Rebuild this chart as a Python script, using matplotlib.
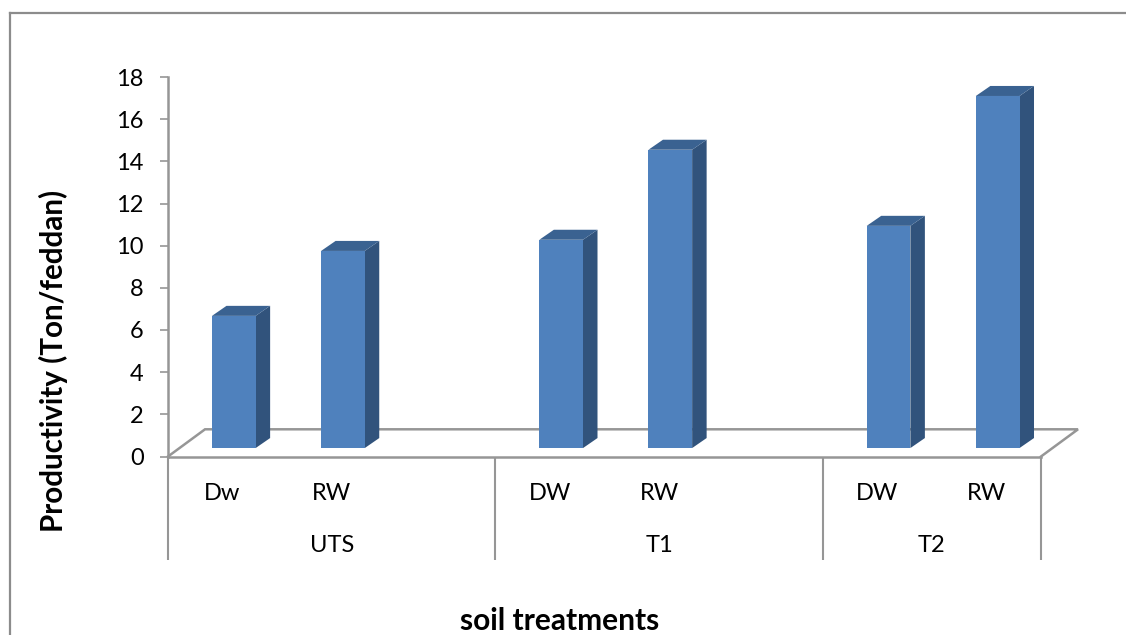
#!/usr/bin/python3
import matplotlib
matplotlib.use("Agg")
import matplotlib.pyplot as plt
from matplotlib.lines import Line2D
from matplotlib.patches import Polygon

plt.rcParams['font.family'] = ['Lato', 'DejaVu Sans']

water = ['Dw', 'RW', 'DW', 'RW', 'DW', 'RW']
slots = [0, 1, 3, 4, 6, 7]  # slot 2 and 5 are left empty
values = [6.27, 9.35, 9.88, 14.15, 10.54, 16.7]
groups = ['UTS', 'T1', 'T2']
group_centers = [1.5, 4.5, 7.0]
group_edges = [0, 3, 6, 8]

front = '#4f81bd'
side = '#31537c'
top = '#3a6291'
grey = '#969696'

W, H = 1126, 635
fig = plt.figure(figsize=(W / 100, H / 100), dpi=100)
ax = fig.add_axes([168 / W, (H - 456.5) / H, 873 / W, 379.5 / H])
ax.set_xlim(0, 8)
ax.set_ylim(0, 18)
ax.patch.set_alpha(0)

# outer chart frame, runs off the image on the right and bottom
fig.add_artist(Line2D([9.5 / W, 9.5 / W], [0, 1 - 13 / H], color='#8c8c8c', lw=1.6))
fig.add_artist(Line2D([9.5 / W, 1], [1 - 13 / H, 1 - 13 / H], color='#8c8c8c', lw=1.6))

# fake 3d floor
floor_dx = 37 / 109.1
floor_dy = 1.29
ax.plot([0, floor_dx, 8 + floor_dx, 8], [0, floor_dy, floor_dy, 0],
        color=grey, lw=1.8, clip_on=False, zorder=1, solid_joinstyle='miter')

# fake 3d bars
bar_w = 0.4
dx = 14.5 / 109.1
dy = 0.475
x_off = 0.403
base = 0.4
for s, v in zip(slots, values):
    x0 = s + x_off
    x1 = x0 + bar_w
    y1 = base + v
    ax.add_patch(Polygon([(x1, base), (x1 + dx, base + dy), (x1 + dx, y1 + dy), (x1, y1)],
                         fc=side, ec='none', clip_on=False, zorder=3))
    ax.add_patch(Polygon([(x0, y1), (x0 + dx, y1 + dy), (x1 + dx, y1 + dy), (x1, y1)],
                         fc=top, ec='none', clip_on=False, zorder=3))
    ax.add_patch(Polygon([(x0, base), (x1, base), (x1, y1), (x0, y1)],
                         fc=front, ec='none', clip_on=False, zorder=4))

for k in ['top', 'right']:
    ax.spines[k].set_visible(False)
for k in ['left', 'bottom']:
    ax.spines[k].set_color(grey)
    ax.spines[k].set_linewidth(1.8)

ax.set_yticks(range(0, 19, 2))
ax.tick_params(axis='y', length=5.5, width=1.2, color=grey, labelsize=17, pad=12)
ax.set_xticks([s + 0.5 for s in slots])
ax.set_xticklabels(water)
ax.tick_params(axis='x', length=0, labelsize=17, pad=19)

# second level of the category axis
for e in group_edges:
    ax.plot([e, e], [0, -4.9], color=grey, lw=1.5, clip_on=False, solid_capstyle='butt')
for g, c in zip(groups, group_centers):
    ax.text(c, -4.23, g, ha='center', va='center', fontsize=17, color='black')

fig.text(53 / W, 1 - 361 / H, 'Productivity (Ton/feddan)', rotation=90, ha='center', va='center',
         fontsize=21.3, fontweight='bold')
fig.text(560 / W, 1 - 620.5 / H, 'soil treatments', ha='center', va='center',
         fontsize=21.5, fontweight='bold')

fig.savefig('out.png', dpi=100)
